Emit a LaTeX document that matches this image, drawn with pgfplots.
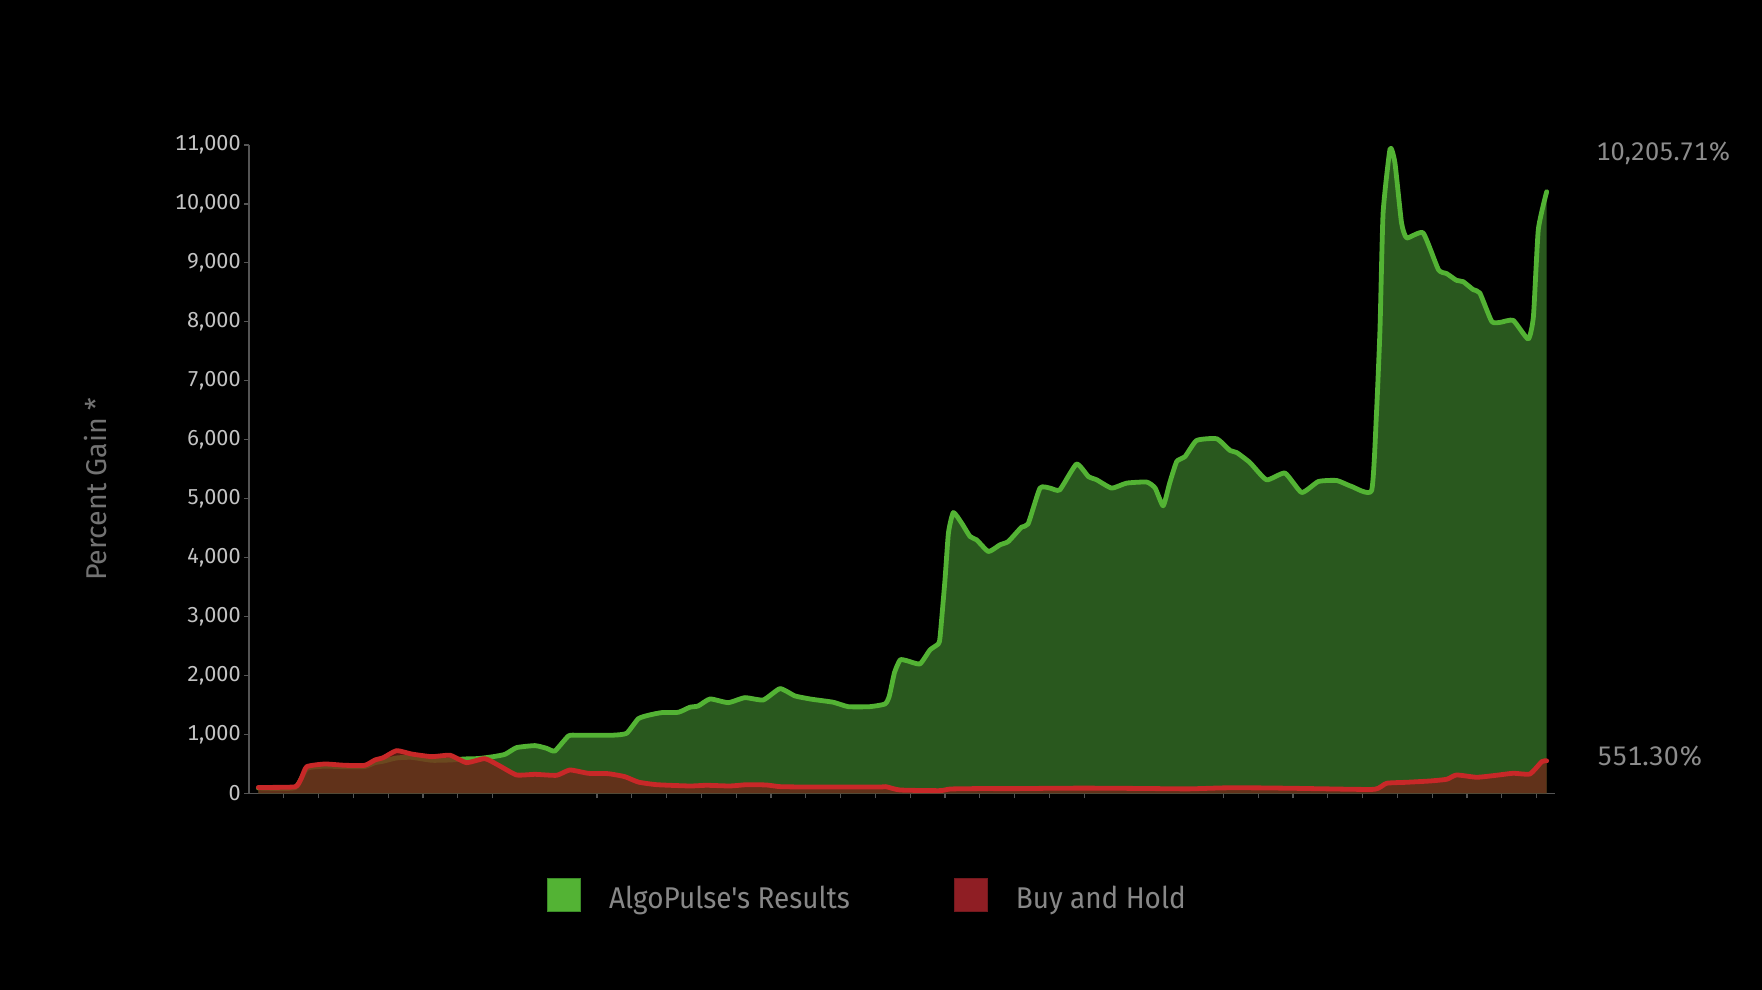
\documentclass[border=0pt]{standalone}
\usepackage{fontspec}
\setmainfont[Numbers=Monospaced]{Fira Sans}
\newfontfamily\legfont[FakeStretch=0.93]{Fira Sans}
\usepackage{pgfplots}
\usepackage{pgfplotstable}
\pgfplotsset{compat=1.18}

\definecolor{greenline}{RGB}{83,179,52}
\definecolor{greenfill}{RGB}{41,88,30}
\definecolor{greenedge}{RGB}{60,140,40}
\definecolor{redline}{RGB}{200,40,40}
\definecolor{redfill}{RGB}{116,38,25}
\definecolor{redsq}{RGB}{143,30,36}
\definecolor{rededge}{RGB}{115,25,30}
\definecolor{axisgray}{RGB}{85,85,85}
\definecolor{ticktext}{RGB}{195,195,195}
\definecolor{labeltext}{RGB}{115,115,115}
\definecolor{legendtext}{RGB}{135,135,135}
\definecolor{annot}{RGB}{140,140,140}

% AlgoPulse's results, percent gain
\pgfplotstableread{
t v
0.27 90
1.32 95
1.66 420
2.18 460
2.76 450
3.33 455
3.62 520
3.86 545
4.24 600
4.67 610
5.25 560
5.78 565
6.21 583
6.60 590
7.02 622
7.36 662
7.69 775
8.22 809
8.55 764
8.79 718
9.18 973
9.46 985
10.42 985
10.85 1018
11.19 1267
11.52 1330
11.86 1369
12.34 1375
12.67 1460
12.91 1482
13.25 1601
13.77 1538
14.25 1623
14.78 1584
15.26 1776
15.69 1652
16.17 1596
16.79 1545
17.22 1470
17.84 1470
18.28 1516
18.40 1650
18.55 2050
18.71 2263
18.90 2251
19.28 2195
19.57 2433
19.81 2535
19.86 2659
20.00 3621
20.10 4420
20.24 4764
20.48 4584
20.72 4357
20.91 4300
21.25 4102
21.58 4216
21.82 4272
22.20 4516
22.39 4572
22.73 5178
23.02 5178
23.30 5149
23.78 5586
24.12 5375
24.36 5319
24.79 5178
25.22 5263
25.80 5280
26.04 5178
26.27 4878
26.46 5270
26.66 5630
26.90 5715
27.23 5986
27.81 6015
28.19 5817
28.38 5783
28.76 5613
29.24 5319
29.77 5433
30.25 5104
30.73 5290
31.26 5307
31.69 5205
32.26 5138
32.40 6452
32.50 7866
32.59 9847
32.79 10934
32.93 10696
33.12 9677
33.27 9423
33.74 9508
34.18 8885
34.42 8817
34.70 8703
34.89 8681
35.18 8545
35.37 8489
35.71 8007
35.95 7990
36.33 8024
36.76 7708
36.91 8092
37.05 9564
37.29 10205.71
}\algo

% buy and hold, percent gain
\pgfplotstableread{
t v
0.27 100
1.32 110
1.50 250
1.66 452
2.18 497
2.76 475
3.33 475
3.62 565
3.86 605
4.24 724
4.67 667
5.25 622
5.78 645
6.25 520
6.78 588
7.21 463
7.69 311
8.22 322
8.84 305
9.22 396
9.75 339
10.32 333
10.80 282
11.19 190
11.72 146
12.67 124
13.15 136
13.82 124
14.30 146
14.87 141
15.26 113
16.00 107
18.10 107
18.30 113
18.71 56
19.86 45
20.14 73
21.00 80
22.00 79
23.00 85
24.00 88
25.00 85
26.00 80
27.00 75
28.00 92
29.00 92
30.00 85
31.00 75
32.35 68
32.69 170
33.27 187
33.94 209
34.42 238
34.70 311
35.28 272
35.85 306
36.33 340
36.81 328
37.15 537
37.29 551.3
}\hold

\begin{document}
\begin{tikzpicture}
\fill[black] (0,0) rectangle (881bp,495bp);
\begin{axis}[
  at={(124.5bp,98.35bp)}, anchor=south west,
  scale only axis, width=653bp, height=324.15bp,
  xmin=0, xmax=37.53, ymin=0, ymax=11000,
  axis lines*=left,
  axis line style={draw=axisgray, line width=0.6bp},
  xtick={1,2,3,4,5,6,7,10,11,12,13,14,15,16,17,18,19,20,21,22,23,24,28,29,30,31,32,33,34,35,36,37},
  xticklabel=\empty,
  ytick={0,1000,...,11000},
  scaled y ticks=false,
  tick align=outside, major tick length=2.5bp,
  tick style={draw=axisgray, line width=0.6bp},
  yticklabel style={font=\fontsize{10.8bp}{12bp}\selectfont, text=ticktext, inner sep=0pt, xshift=-1.5bp},
  /pgf/number format/1000 sep={,},
  /pgf/number format/assume math mode=true,
  ylabel={Percent Gain *},
  ylabel style={at={(axis description cs:-0.1175,0.469)}, anchor=center, font=\fontsize{14.3bp}{16bp}\selectfont, text=labeltext},
  legend style={at={(axis description cs:0.2282,-0.1575)}, anchor=west, draw=none, fill=none,
    inner sep=0pt, outer sep=0pt, font=\legfont\fontsize{15bp}{18bp}\selectfont, text=legendtext,
    nodes={inner sep=0pt},
    /tikz/every odd column/.append style={column sep=14bp},
    /tikz/every even column/.append style={column sep=52bp}},
  legend columns=-1,
]
\addplot[forget plot, smooth, tension=0.3, draw=none, fill=greenfill] table[x=t, y=v] {\algo} \closedcycle;
\addplot[forget plot, smooth, tension=0.3, draw=greenline, line width=2.4bp, line join=round, line cap=round] table[x=t, y=v] {\algo};
\addplot[forget plot, smooth, tension=0.3, draw=none, fill=redfill, fill opacity=0.75] table[x=t, y=v] {\hold} \closedcycle;
\addplot[forget plot, smooth, tension=0.3, draw=redline, line width=2.4bp, line join=round, line cap=round] table[x=t, y=v] {\hold};

\addlegendimage{legend image code/.code={\draw[draw=greenedge, fill=greenline, line width=0.5bp] (0bp,-6.55bp) rectangle (16.5bp,9.95bp);}}
\addlegendentry{AlgoPulse's Results}
\addlegendimage{legend image code/.code={\draw[draw=rededge, fill=redsq, line width=0.5bp] (0bp,-6.55bp) rectangle (16.5bp,9.95bp);}}
\addlegendentry{Buy and Hold}
\end{axis}
\node[anchor=west, inner sep=0pt, text=annot, font=\fontsize{12.7bp}{15bp}\selectfont] at (798bp,418.5bp) {10,205.71\%};
\node[anchor=west, inner sep=0pt, text=annot, font=\fontsize{13.4bp}{15bp}\selectfont] at (798.5bp,117bp) {551.30\%};
\pgfresetboundingbox
\useasboundingbox (0,0) rectangle (881bp,495bp);
\end{tikzpicture}
\end{document}
